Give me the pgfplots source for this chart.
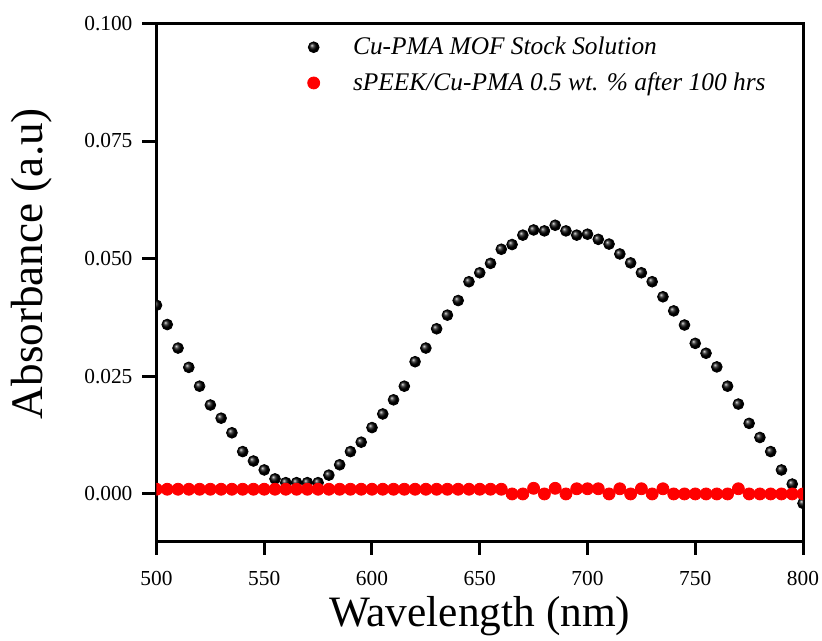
\documentclass[border=0pt]{standalone}
\usepackage{fontspec}
\setmainfont{Liberation Serif}
\usepackage{pgfplots}
\pgfplotsset{compat=1.18}
\usetikzlibrary{plotmarks}
\begin{document}
\begin{tikzpicture}
\begin{axis}[
  scale only axis,
  width=323.5pt, height=259pt,
  xmin=500, xmax=800, ymin=-0.01, ymax=0.1,
  xtick={500,550,...,800},
  ytick={0,0.025,0.05,0.075,0.1},
  /pgf/number format/assume math mode=true,
  tick pos=left,
  tick align=outside,
  major tick length=7pt,
  axis line style={line width=1.5pt},
  every tick/.style={line width=1.5pt, black},
  tick label style={font=\fontsize{10.7}{12}\selectfont},
  xticklabel style={yshift=-4.5pt},
  yticklabel style={xshift=-1.5pt, /pgf/number format/.cd, fixed, fixed zerofill, precision=3},
  clip marker paths=true,
  xlabel={Wavelength (nm)},
  ylabel={Absorbance (a.u)},
  xlabel style={font=\fontsize{21.7}{24}\selectfont},
  xlabel shift=-1.5pt,
  ylabel style={font=\fontsize{22.6}{24}\selectfont, at={(ticklabel cs:0.536)}},
  ylabel shift=9pt,
  legend style={draw=none, fill=none, at={(rel axis cs:0.224,0.99)}, anchor=north west,
    font=\itshape\fontsize{12.7}{15}\selectfont, row sep=3.5pt},
  legend cell align=left,
  legend image code/.code={\draw[#1] plot coordinates {(0pt,0pt)}; \path[draw=none,fill=none] (0pt,0pt) (17.7pt,0pt);},
]
\coordinate (ll) at (rel axis cs:0,0);
\coordinate (ur) at (rel axis cs:1,1);
\addplot[only marks, mark=ball, mark size=2.7pt, mark options={ball color=black}] coordinates {
(500,0.0401)(505,0.0360)(510,0.0310)(515,0.0269)(520,0.0229)(525,0.0189)(530,0.0161)(535,0.0130)(540,0.0090)(545,0.0070)
(550,0.0051)(555,0.0032)(560,0.0024)(565,0.0024)(570,0.0024)(575,0.0024)(580,0.0040)(585,0.0062)(590,0.0090)(595,0.0110)
(600,0.0141)(605,0.0170)(610,0.0200)(615,0.0229)(620,0.0281)(625,0.0310)(630,0.0351)(635,0.0380)(640,0.0411)(645,0.0451)
(650,0.0470)(655,0.0490)(660,0.0520)(665,0.0530)(670,0.0550)(675,0.0561)(680,0.0559)(685,0.0571)(690,0.0559)(695,0.0550)
(700,0.0552)(705,0.0541)(710,0.0531)(715,0.0510)(720,0.0491)(725,0.0470)(730,0.0451)(735,0.0419)(740,0.0389)(745,0.0359)
(750,0.0320)(755,0.0299)(760,0.0270)(765,0.0229)(770,0.0191)(775,0.0150)(780,0.0120)(785,0.0090)(790,0.0051)(795,0.0021)
(800,-0.0020)
};
\addlegendentry{Cu-PMA MOF Stock Solution}
\addplot[only marks, mark=*, mark size=3pt, color=red, mark options={draw=red, fill=red}] coordinates {
(500,0.001)(505,0.001)(510,0.001)(515,0.001)(520,0.001)(525,0.001)(530,0.001)(535,0.001)(540,0.001)(545,0.001)
(550,0.001)(555,0.001)(560,0.001)(565,0.001)(570,0.001)(575,0.001)(580,0.001)(585,0.001)(590,0.001)(595,0.001)
(600,0.001)(605,0.001)(610,0.001)(615,0.001)(620,0.001)(625,0.001)(630,0.001)(635,0.001)(640,0.001)(645,0.001)
(650,0.001)(655,0.001)(660,0.001)(665,0.000)(670,0.000)(675,0.0012)(680,0.000)(685,0.0012)(690,0.000)(695,0.0011)
(700,0.0011)(705,0.0011)(710,0.000)(715,0.0011)(720,0.000)(725,0.0011)(730,0.000)(735,0.0011)(740,0.000)(745,0.000)
(750,0.000)(755,0.000)(760,0.000)(765,0.000)(770,0.0011)(775,0.000)(780,0.000)(785,0.000)(790,0.000)(795,0.000)
(800,0.000)
};
\addlegendentry{sPEEK/Cu-PMA 0.5 wt. \% after 100 hrs}
\end{axis}
\pgfresetboundingbox
\useasboundingbox ([xshift=-78.3pt,yshift=-49.7pt]ll) rectangle ([xshift=9.5pt,yshift=11.7pt]ur);
\end{tikzpicture}
\end{document}
